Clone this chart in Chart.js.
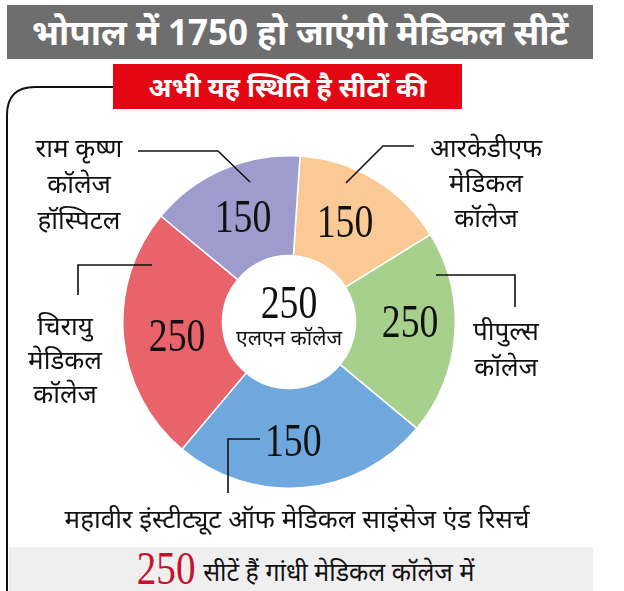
<!DOCTYPE html>
<html><head><meta charset="utf-8">
<script src="https://cdn.jsdelivr.net/npm/chart.js@4.4.0/dist/chart.umd.min.js"></script>
<style>
html,body{margin:0;padding:0;background:#fff;width:624px;height:591px;overflow:hidden;font-family:"Noto Sans",sans-serif;}
#wrap{position:relative;width:624px;height:591px;}
.abs{position:absolute;}
#title{left:7px;top:5px;width:586px;height:54px;background:#6e6e6e;color:#fff;font-weight:bold;font-size:35px;line-height:54px;text-align:center;white-space:nowrap;}
#sub{left:113px;top:64px;width:349px;height:45px;background:#e30613;color:#fff;font-weight:bold;font-size:27px;line-height:45px;text-align:center;white-space:nowrap;}
.lbl{font-size:26px;color:#111;text-align:center;white-space:nowrap;transform:translateX(-50%);}
#foot{left:9px;top:547px;width:584px;height:44px;background:#efefef;}
#footText{left:303px;top:547px;height:44px;line-height:44px;transform:translateX(-50%);white-space:nowrap;font-size:25px;color:#111;}
#footNum{font-family:"Liberation Serif",serif;color:#c8102e;font-size:46px;display:inline-block;transform:scaleX(0.85);vertical-align:-3px;margin-right:-4px;}
#cv{left:122px;top:155px;}
svg{position:absolute;left:0;top:0;}
</style></head>
<body><div id="wrap">
<div id="title" class="abs"></div>
<div id="sub" class="abs"></div>
<div id="foot" class="abs"></div>
<div id="footText" class="abs"></div>
<div class="abs" id="cv" style="width:334px;height:334px;"><canvas id="c" width="334" height="334"></canvas></div>
<svg width="624" height="591" fill="none" stroke="#111">
  <path d="M113 87 H35 Q7 87 7 115 V591" stroke-width="2"/>
  <path d="M138 151 H218 L250 182" stroke-width="1.6"/>
  <path d="M152 265 H78 V295" stroke-width="1.6"/>
  <path d="M346 183 L383 146 H414" stroke-width="1.6"/>
  <path d="M436 275 H515 V307" stroke-width="1.6"/>
  <path d="M260 439 H228 V493" stroke-width="1.6"/>
</svg>
</div>
<script>
const titleText = "भोपाल में 1750 हो जाएंगी मेडिकल सीटें";
const subText = "अभी यह स्थिति है सीटों की";
// slices, clockwise from the top
const colleges = [
  ["आरकेडीएफ","मेडिकल","कॉलेज"],
  ["पीपुल्स","कॉलेज"],
  ["महावीर इंस्टीट्यूट ऑफ मेडिकल साइंसेज एंड रिसर्च"],
  ["चिरायु","मेडिकल","कॉलेज"],
  ["राम कृष्ण","कॉलेज","हॉस्पिटल"]
];
const seats = [150, 250, 150, 250, 150];
// drawn share of the ring (degrees)
const sliceShare = [54.5, 71.5, 90.3, 89.5, 54.2];
const colors = ["#fbc996", "#a8d08d", "#6fa8dc", "#e9636b", "#9d9ccd"];
const centerName = "एलएन कॉलेज";
const centerSeats = 250;
const footName = "सीटें हैं गांधी मेडिकल कॉलेज में";
const footSeats = 250;

document.getElementById('title').textContent = titleText;
document.getElementById('sub').textContent = subText;
document.getElementById('footText').innerHTML = '<span id="footNum">' + footSeats + '</span> ' + footName;

// label placement (layout only)
const labelPos = [
  {x:486, y:130, lh:35},
  {x:506, y:312, lh:36},
  {x:297, y:500, lh:36},
  {x:65,  y:308, lh:34},
  {x:79,  y:129, lh:36}
];
const wrap = document.getElementById('wrap');
colleges.forEach((lines, i) => {
  const d = document.createElement('div');
  d.className = 'abs lbl';
  d.style.left = labelPos[i].x + 'px';
  d.style.top = labelPos[i].y + 'px';
  d.style.lineHeight = labelPos[i].lh + 'px';
  d.innerHTML = lines.join('<br>');
  wrap.appendChild(d);
});

function serifNum(ctx, txt, x, y, size, color) {
  ctx.save();
  ctx.translate(x, y);
  ctx.scale(0.82, 1);
  ctx.font = size + 'px "Liberation Serif", serif';
  ctx.fillStyle = color || '#111';
  ctx.textAlign = 'center';
  ctx.textBaseline = 'alphabetic';
  ctx.fillText(txt, 0, size * 0.33);
  ctx.restore();
}

// small nudges of label anchor relative to slice centroid (layout only)
const numNudge = [[-4, 0], [5, -8], [-6, 3], [4, 3], [0, 2]];

const sliceNumbers = {
  id: 'sliceNumbers',
  afterDatasetsDraw(chart) {
    const ctx = chart.ctx;
    const meta = chart.getDatasetMeta(0);
    meta.data.forEach((arc, i) => {
      const p = arc.tooltipPosition();
      serifNum(ctx, String(seats[i]), p.x + numNudge[i][0], p.y + numNudge[i][1], 46);
    });
    const a = meta.data[0];
    serifNum(ctx, String(centerSeats), a.x, a.y - 19, 46);
    ctx.save();
    ctx.font = '21px "Noto Sans", sans-serif';
    ctx.fillStyle = '#111';
    ctx.textAlign = 'center';
    ctx.textBaseline = 'middle';
    ctx.fillText(centerName, a.x, a.y + 17);
    ctx.restore();
  }
};

new Chart(document.getElementById('c'), {
  type: 'doughnut',
  data: {
    labels: colleges.map(l => l.join(' ')),
    datasets: [{
      data: sliceShare,
      backgroundColor: colors,
      borderColor: '#ffffff',
      borderWidth: 1.5,
      hoverOffset: 0
    }]
  },
  options: {
    responsive: false,
    animation: false,
    rotation: 3.8,
    cutout: '40%',
    layout: {padding: 0},
    plugins: {legend: {display: false}, tooltip: {enabled: false}}
  },
  plugins: [sliceNumbers]
});
</script>
</body></html>
